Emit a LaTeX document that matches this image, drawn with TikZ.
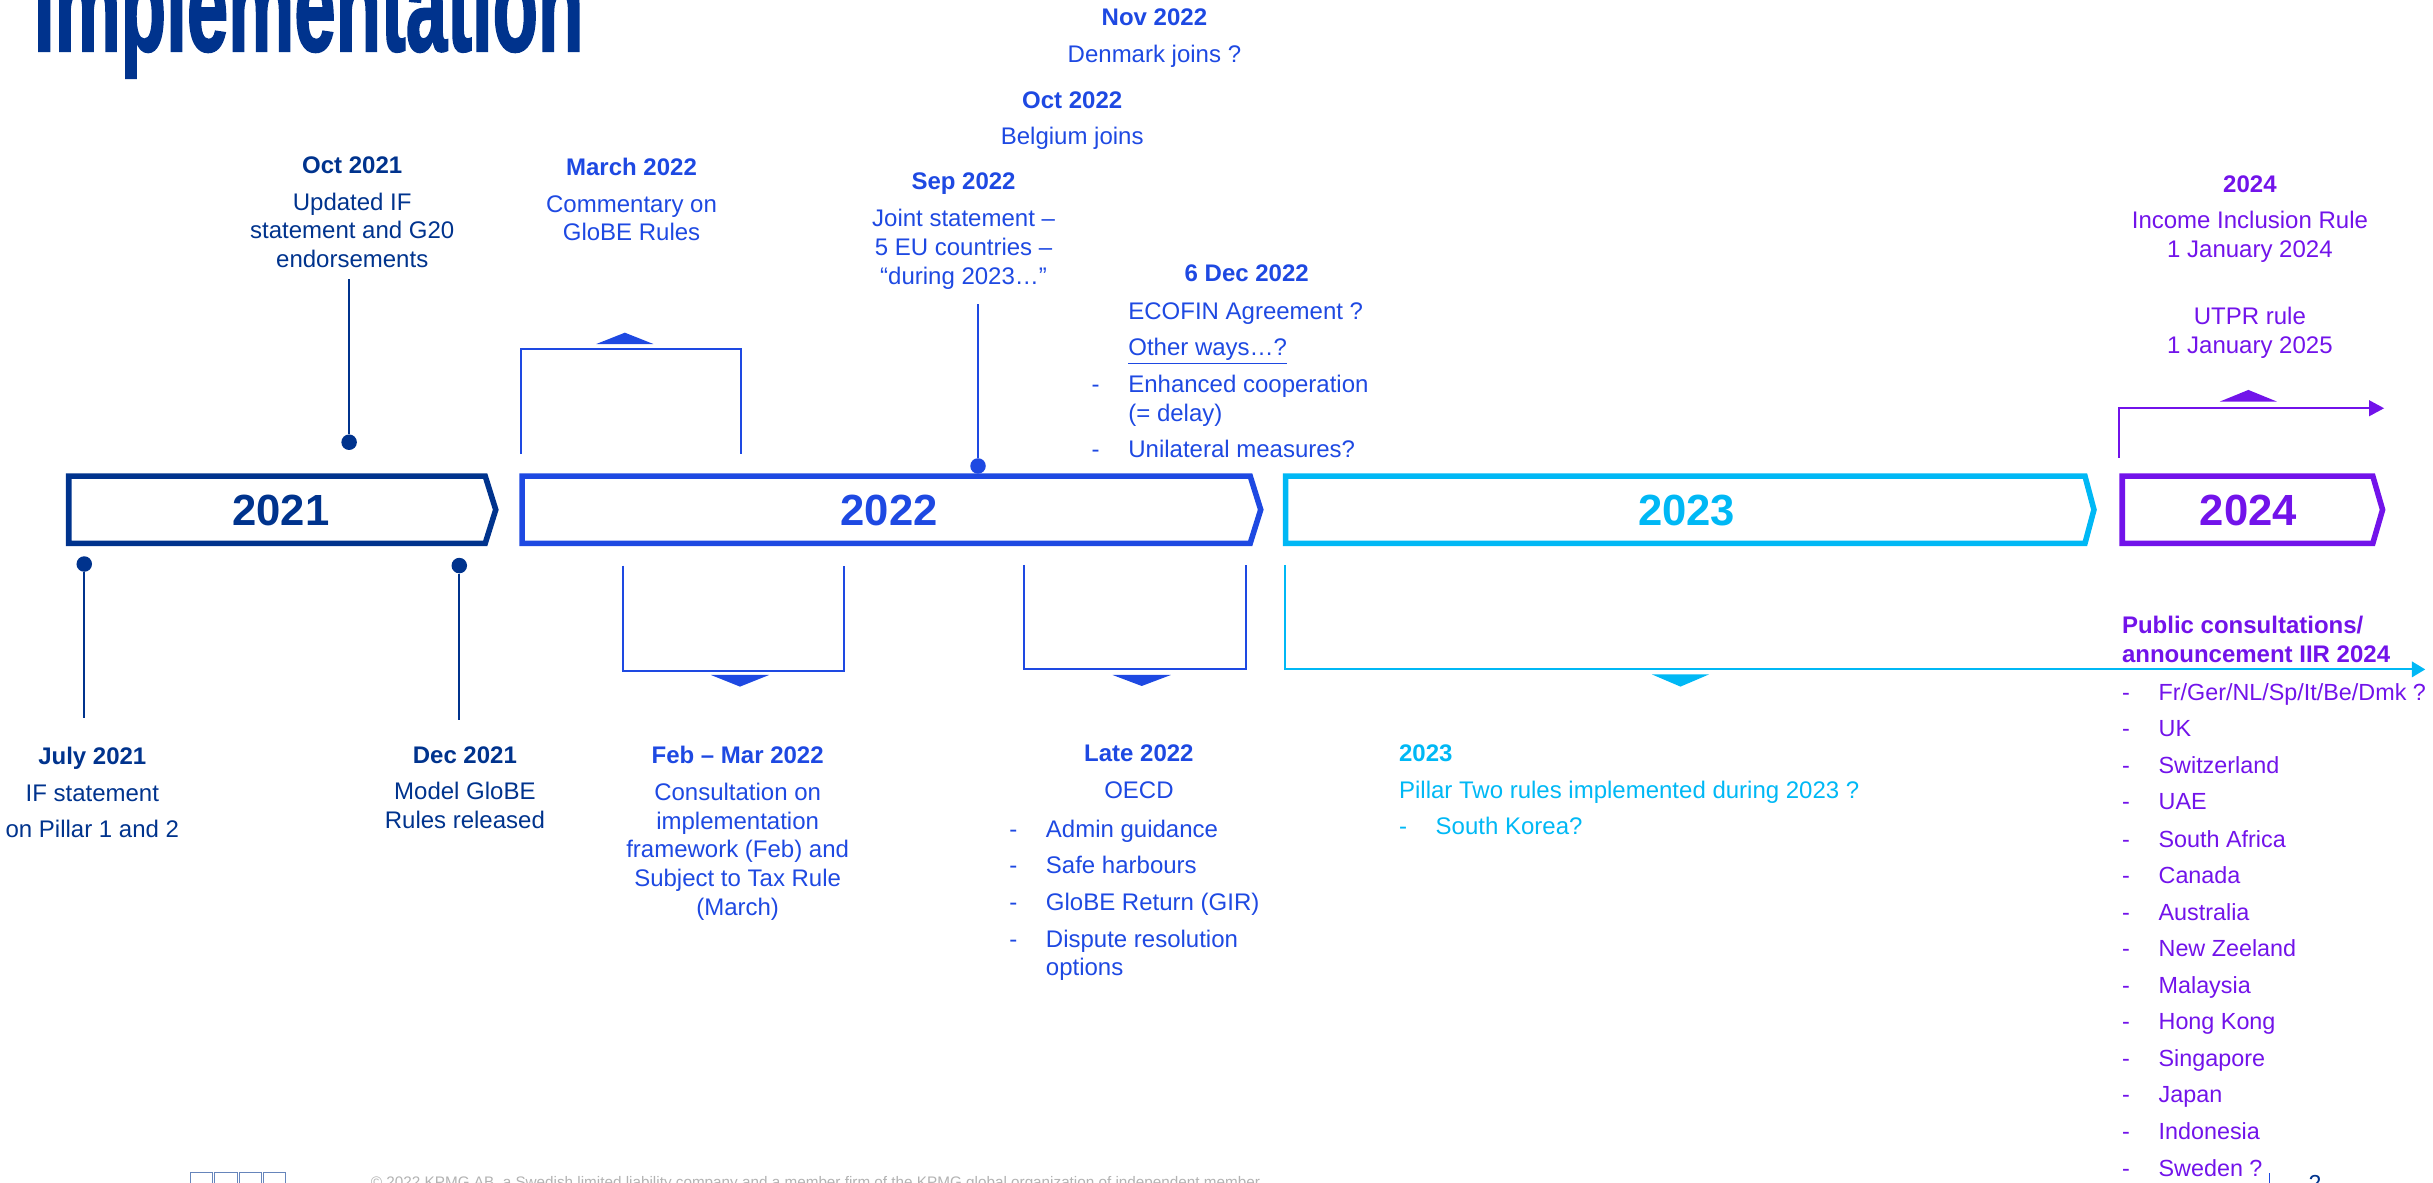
\documentclass[tikz,border=0pt]{standalone}
\usepackage{fontspec}
\setmainfont{Liberation Sans}
\newfontfamily\titlefont[FakeBold=2]{Liberation Sans Bold}
\usetikzlibrary{arrows.meta}
\definecolor{kpmgdark}{HTML}{00338D}
\definecolor{kpmgcobalt}{HTML}{1E49E2}
\definecolor{kpmgcyan}{HTML}{00B8F5}
\definecolor{kpmgpurple}{HTML}{7213EA}
\newcommand{\itm}{\makebox[0.59cm][l]{-}}
\newcommand{\ind}{\makebox[0.59cm]{}}
\begin{document}
\begin{tikzpicture}[x=0.025cm,y=-0.025cm,
    txt/.style={inner sep=0pt,anchor=north,align=center,font=\fontsize{11}{13.2}\selectfont},
    lst/.style={txt,anchor=north west,align=left},
    yearbar/.style={line width=2.55pt},
    yearlbl/.style={font=\fontsize{20}{24}\selectfont\bfseries},
    stem/.style={line width=1pt},
    dot/.style={circle,fill,inner sep=0pt,minimum size=0.25cm},
    brk/.style={line width=0.9pt}]
  \useasboundingbox (0,0) rectangle (1568,762);
  \clip (0,0) rectangle (1568,762);

  \node[anchor=base west,inner sep=0pt,kpmgdark] (title) at (21.6,32.7)
    {\scalebox{0.568}[1]{\fontsize{60}{60}\titlefont Implementation}};

  \draw[yearbar,kpmgdark] (44.3,306.8) -- (312.7,306.8) -- (319.5,328.5) -- (312.7,350.2) -- (44.3,350.2) -- cycle;
  \draw[yearbar,kpmgcobalt] (336.5,306.8) -- (805.7,306.8) -- (812.5,328.5) -- (805.7,350.2) -- (336.5,350.2) -- cycle;
  \draw[yearbar,kpmgcyan] (828.5,306.8) -- (1343.7,306.8) -- (1349.5,328.5) -- (1343.7,350.2) -- (828.5,350.2) -- cycle;
  \draw[yearbar,kpmgpurple] (1367.7,306.8) -- (1529.2,306.8) -- (1535.5,328.5) -- (1529.2,350.2) -- (1367.7,350.2) -- cycle;
  \node[yearlbl,kpmgdark] (y2021) at (181,329) {2021};
  \node[yearlbl,kpmgcobalt] (y2022) at (573,329) {2022};
  \node[yearlbl,kpmgcyan] (y2023) at (1087,329) {2023};
  \node[yearlbl,kpmgpurple] (y2024) at (1449,329) {2024};

  \node[dot,kpmgdark] (jul21dot) at (54.3,363.5) {};
  \coordinate (jul21end) at (54.3,462.7);
  \draw[stem,kpmgdark] (jul21dot) -- (jul21end);
  \node[txt,kpmgdark] (jul21) at (59.5,481.2) {\textbf{July 2021}\\[3.6pt]IF statement\\[3.6pt]on Pillar 1 and 2};

  \node[dot,kpmgdark] (dec21dot) at (296,364.5) {};
  \coordinate (dec21end) at (296,464);
  \draw[stem,kpmgdark] (dec21dot) -- (dec21end);
  \node[txt,kpmgdark] (dec21) at (299.6,480.7) {\textbf{Dec 2021}\\[3.6pt]Model GloBE\\Rules released};

  \node[dot,kpmgdark] (oct21dot) at (225,285) {};
  \coordinate (oct21end) at (225,180);
  \draw[stem,kpmgdark] (oct21dot) -- (oct21end);
  \node[txt,kpmgdark] (oct21) at (227,100.7) {\textbf{Oct 2021}\\[3.6pt]Updated IF\\statement and G20\\endorsements};

  \node[txt,kpmgcobalt] (mar22) at (407,101.6) {\textbf{March 2022}\\[3.6pt]Commentary on\\GloBE Rules};
  \draw[brk,kpmgcobalt] (335.5,292.6) |- (477.6,225) -- (477.6,292.6);
  \fill[kpmgcobalt] (384.3,221.7) -- (421.1,221.7) -- (402.7,214.4) -- cycle;

  \node[dot,kpmgcobalt] (sep22dot) at (630.3,300.3) {};
  \coordinate (sep22end) at (630.3,196);
  \draw[stem,kpmgcobalt] (sep22dot) -- (sep22end);
  \node[txt,kpmgcobalt] (sep22) at (621,111.3) {\textbf{Sep 2022}\\[3.6pt]Joint statement –\\5 EU countries –\\“during 2023…”};

  \node[txt,kpmgcobalt] (oct22) at (691,58.7) {\textbf{Oct 2022}\\[3.6pt]Belgium joins};
  \node[txt,kpmgcobalt] (nov22) at (744,5.4) {\textbf{Nov 2022}\\[3.6pt]Denmark joins ?};

  \node[txt,kpmgcobalt] (dec22) at (803.5,170.6) {\textbf{6 Dec 2022}};
  \node[lst,kpmgcobalt] (dec22list) at (703.3,194.6) {\ind ECOFIN Agreement ?\\[3.6pt]\ind\underline{Other ways…?}\\[3.6pt]\itm Enhanced cooperation\\\ind(= delay)\\[3.6pt]\itm Unilateral measures?};

  \node[txt,kpmgcobalt] (febmar) at (475.4,480.6) {\textbf{Feb – Mar 2022}\\[3.6pt]Consultation on\\implementation\\framework (Feb) and\\Subject to Tax Rule\\(March)};
  \draw[brk,kpmgcobalt] (401.4,364.5) |- (543.8,432.2) -- (543.8,364.5);
  \fill[kpmgcobalt] (458.1,435) -- (495.7,435) -- (476.9,442.5) -- cycle;

  \node[txt,kpmgcobalt] (late22) at (734,479.7) {\textbf{Late 2022}\\[3.6pt]OECD};
  \node[lst,kpmgcobalt] (late22list) at (650.2,528) {\itm Admin guidance\\[3.6pt]\itm Safe harbours\\[3.6pt]\itm GloBE Return (GIR)\\[3.6pt]\itm Dispute resolution\\\ind options};
  \draw[brk,kpmgcobalt] (660.1,364.1) |- (803,431.4) -- (803,364.1);
  \fill[kpmgcobalt] (717,435) -- (754.6,435) -- (735.8,442.1) -- cycle;

  \node[lst,kpmgcyan] (y23txt) at (901.4,479.7) {\textbf{2023}\\[3.6pt]Pillar Two rules implemented during 2023 ?\\[3.6pt]\itm South Korea?};
  \draw[brk,kpmgcyan,-{Triangle[length=0.215cm,width=0.25cm]}] (828,364) |- (1563,431.4);
  \fill[kpmgcyan] (1064.5,434.6) -- (1101.5,434.6) -- (1083,442.5) -- cycle;

  \node[txt,kpmgpurple] (iir) at (1450,112.8) {\textbf{2024}\\[3.6pt]Income Inclusion Rule\\1 January 2024};
  \node[txt,kpmgpurple] (utpr) at (1450,197.7) {UTPR rule\\1 January 2025};
  \draw[brk,kpmgpurple,-{Triangle[length=0.24cm,width=0.25cm]}] (1365.6,295) |- (1536.5,263.1);
  \fill[kpmgpurple] (1430.6,258.8) -- (1467.4,258.8) -- (1449,251.3) -- cycle;

  \node[lst,kpmgpurple] (pubcons) at (1367.3,397) {\textbf{Public consultations/}\\\textbf{announcement IIR 2024}};
  \foreach \c [count=\i from 0] in {{Fr/Ger/NL/Sp/It/Be/Dmk ?},UK,Switzerland,UAE,South Africa,Canada,Australia,New Zeeland,Malaysia,Hong Kong,Singapore,Japan,Indonesia,Sweden ?}
    \node[lst,kpmgpurple,font=\fontsize{10.7}{13.2}\selectfont] (country\i) at (1367.3,440.3+23.6*\i) {\itm\c};

  \foreach \i in {0,...,3}
    \draw[kpmgdark!60,line width=0.4pt] (122.6+15.7*\i,755.7) rectangle ++(14.5,12);
  \node[anchor=base west,inner sep=0pt,text=gray!60,font=\fontsize{7}{8}\selectfont] (footer) at (238.8,765.6)
    {© 2022 KPMG AB, a Swedish limited liability company and a member firm of the KPMG global organization of independent member};
  \draw[kpmgcobalt,line width=0.4pt] (1462.4,756) -- (1462.4,764);
  \node[anchor=north,inner sep=0pt,kpmgdark,font=\fontsize{10.6}{13}\selectfont] (pageno) at (1492,757.5) {2};
\end{tikzpicture}
\end{document}
